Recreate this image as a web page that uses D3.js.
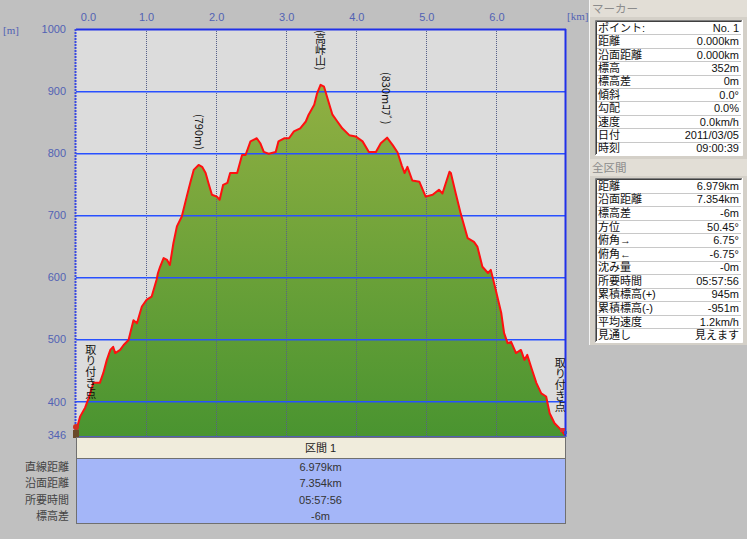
<!DOCTYPE html>
<html><head><meta charset="utf-8">
<script src="https://cdn.jsdelivr.net/npm/d3@7"></script>
<style>
html,body{margin:0;padding:0;background:#c0c0c0;}
svg{display:block;}
text{font-family:"Noto Sans CJK JP","Liberation Sans",sans-serif;}
text.tbl{font-family:"Liberation Sans","Noto Sans CJK JP",sans-serif;}
</style></head>
<body>
<script>
// ---- data ----
const distKm = [0.00,0.06,0.13,0.18,0.25,0.34,0.39,0.44,0.49,0.53,0.56,0.63,0.68,0.75,0.82,0.87,0.94,1.01,1.08,1.15,1.17,1.20,1.25,1.30,1.34,1.39,1.44,1.51,1.58,1.63,1.68,1.75,1.80,1.85,1.89,1.94,2.01,2.05,2.10,2.16,2.20,2.30,2.37,2.42,2.49,2.58,2.63,2.68,2.75,2.85,2.89,2.97,3.04,3.11,3.20,3.28,3.32,3.40,3.44,3.49,3.54,3.59,3.66,3.73,3.80,3.90,3.99,4.09,4.18,4.28,4.35,4.44,4.52,4.59,4.65,4.69,4.73,4.80,4.90,4.99,5.09,5.18,5.23,5.33,5.35,5.42,5.49,5.59,5.68,5.73,5.80,5.88,5.92,5.99,6.07,6.11,6.16,6.21,6.28,6.35,6.40,6.44,6.50,6.57,6.64,6.71,6.76,6.83,6.90,6.979];
const elevM  = [352,376,390,405,430,430,446,467,483,488,478,483,491,499,531,526,553,564,569,596,607,617,631,628,620,655,682,698,730,752,773,781,778,768,752,733,730,725,749,752,768,768,797,797,819,824,816,802,799,802,819,824,824,835,840,851,862,878,896,910,907,888,862,851,840,829,827,819,802,802,816,825,813,801,780,768,778,756,754,730,733,741,735,770,768,735,703,663,657,649,617,607,612,580,542,510,494,496,478,483,467,475,454,430,413,408,381,365,357,346];
const xTicks = [0,1,2,3,4,5,6];
const yTicks = [1000,900,800,700,600,500,400,346];
const yGrid = [900,800,700,600,500,400];
const annotations = [
  {km:1.77, top:114, text:"(790m)"},
  {km:3.49, top:30, text:"(高峠山)"},
  {km:4.44, top:72, text:"(830mｺﾌﾞ)"},
  {km:0.21, top:344, text:"取り付き点"},
  {km:6.91, top:357, text:"取り付き点"}
];
const markerLabels = ["ポイント:","距離","沿面距離","標高","標高差","傾斜","勾配","速度","日付","時刻"];
const markerValues = ["No. 1","0.000km","0.000km","352m","0m","0.0°","0.0%","0.0km/h","2011/03/05","09:00:39"];
const totalLabels = ["距離","沿面距離","標高差","方位","俯角→","俯角←","沈み量","所要時間","累積標高(+)","累積標高(-)","平均速度","見通し"];
const totalValues = ["6.979km","7.354km","-6m","50.45°","6.75°","-6.75°","-0m","05:57:56","945m","-951m","1.2km/h","見えます"];
const sectionTitle = "区間 1";
const sectionLabels = ["直線距離","沿面距離","所要時間","標高差"];
const sectionValues = ["6.979km","7.354km","05:57:56","-6m"];

// ---- drawing ----
const W = 747, H = 539;
const L = 76, R = 565, T = 29, B = 435;
const svg = d3.select("body").append("svg").attr("width", W).attr("height", H);
svg.append("rect").attr("width", W).attr("height", H).attr("fill", "#c0c0c0");

const x = d3.scaleLinear().domain([0, 6.979]).range([L, R]);
const y = d3.scaleLinear().domain([346, 1000]).range([B, T]);

const defs = svg.append("defs");
const grad = defs.append("linearGradient").attr("id","fillg")
  .attr("gradientUnits","userSpaceOnUse").attr("x1",0).attr("y1",T).attr("x2",0).attr("y2",B);
grad.append("stop").attr("offset","0%").attr("stop-color","#9cb445");
grad.append("stop").attr("offset","100%").attr("stop-color","#4a9430");

// plot background
svg.append("rect").attr("x", L).attr("y", T).attr("width", R-L).attr("height", B-T+1).attr("fill","#dcdcdc");

const pts = distKm.map((d,i)=>[d, elevM[i]]);
const area = d3.area().x(d=>x(d[0])).y0(B+1).y1(d=>y(d[1]));
const line = d3.line().x(d=>x(d[0])).y(d=>y(d[1]));
svg.append("path").datum(pts).attr("d", area).attr("fill","url(#fillg)");

// grid
svg.append("g").selectAll("line").data(xTicks.slice(1)).join("line")
  .attr("x1", d=>Math.round(x(d))+0.5).attr("x2", d=>Math.round(x(d))+0.5)
  .attr("y1", T).attr("y2", B+1)
  .attr("stroke","#56608a").attr("stroke-width",1).attr("stroke-dasharray","1,1");
svg.append("g").selectAll("line").data(yGrid).join("line")
  .attr("x1", L).attr("x2", R)
  .attr("y1", d=>Math.round(y(d))+0.75).attr("y2", d=>Math.round(y(d))+0.75)
  .attr("stroke","#2850ff").attr("stroke-width",1.5);

svg.append("path").datum(pts).attr("d", line).attr("fill","none")
  .attr("stroke","#ff1010").attr("stroke-width",2).attr("stroke-linejoin","round");

// borders
svg.append("line").attr("x1",L).attr("x2",R+1).attr("y1",T+0.5).attr("y2",T+0.5).attr("stroke","#2030e8").attr("stroke-width",2);
svg.append("line").attr("x1",R+0.5).attr("x2",R+0.5).attr("y1",T).attr("y2",B+2).attr("stroke","#2030e8").attr("stroke-width",2);
svg.append("line").attr("x1",L-0.5).attr("x2",L-0.5).attr("y1",T).attr("y2",B+2).attr("stroke","#3a4ae0").attr("stroke-width",2).attr("stroke-dasharray","2,1");
svg.append("line").attr("x1",L).attr("x2",R+1).attr("y1",B+1.5).attr("y2",B+1.5).attr("stroke","#5060b0").attr("stroke-width",1);

// vertical annotations
svg.append("g").selectAll("text").data(annotations).join("text")
  .attr("x", d=>x(d.km)).attr("y", d=>d.top)
  .style("writing-mode","vertical-rl").style("text-orientation","mixed")
  .style("font-size","11px").attr("fill","#111")
  .text(d=>d.text);

// start / end markers
const sm = svg.append("g");
sm.append("rect").attr("x",73).attr("y",430).attr("width",6).attr("height",8).attr("fill","#6a4a2a");
sm.append("circle").attr("cx",76).attr("cy",427).attr("r",3).attr("fill","#d03020");
const em = svg.append("g");
em.append("rect").attr("x",560).attr("y",428).attr("width",5).attr("height",4).attr("fill","#e03030");
em.append("rect").attr("x",564).attr("y",431).attr("width",3).attr("height",3).attr("fill","#3050d0");

// bottom section table
svg.append("rect").attr("x",L+0.5).attr("y",437.5).attr("width",R-L).attr("height",21).attr("fill","#f0ecdc").attr("stroke","#707070");
svg.append("text").attr("class","tbl").attr("x",(L+R)/2).attr("y",452).attr("text-anchor","middle")
  .style("font-size","11px").attr("fill","#222").text(sectionTitle);
svg.append("rect").attr("x",L+0.5).attr("y",458.5).attr("width",R-L).attr("height",65).attr("fill","#a4b6f8").attr("stroke","#707070");
const rowY = d3.scaleBand().domain(d3.range(sectionLabels.length)).range([459,524]);
svg.append("g").selectAll("text").data(sectionValues).join("text").attr("class","tbl")
  .attr("x",(L+R)/2).attr("y",(d,i)=>rowY(i)+rowY.bandwidth()/2+4).attr("text-anchor","middle")
  .style("font-size","11px").attr("fill","#333").text(d=>d);
svg.append("g").selectAll("text").data(sectionLabels).join("text").attr("class","tbl")
  .attr("x",69).attr("y",(d,i)=>rowY(i)+rowY.bandwidth()/2+4).attr("text-anchor","end")
  .style("font-size","11px").attr("fill","#444").text(d=>d);

// right panel
const PX = 589;
svg.append("rect").attr("x",PX).attr("y",0).attr("width",W-PX).attr("height",345).attr("fill","#d4d0c8");
svg.append("line").attr("x1",PX+0.5).attr("x2",PX+0.5).attr("y1",0).attr("y2",345).attr("stroke","#f4f4f4");

function panel(title, titleY, labels, values, top, bottom){
  svg.append("rect").attr("x",PX+1).attr("y",titleY).attr("width",W-PX-1).attr("height",17).attr("fill","#e2ded6");
  svg.append("text").attr("class","tbl").attr("x",592).attr("y",titleY+13).style("font-size","11.5px").attr("fill","#8c8c8c").text(title);
  const bx = 595, bw = 147;
  svg.append("rect").attr("x",bx+0.5).attr("y",top+0.5).attr("width",bw).attr("height",bottom-top).attr("fill","#ffffff");
  const band = d3.scaleBand().domain(d3.range(labels.length)).range([top+1, bottom]);
  svg.append("g").selectAll("line").data(d3.range(1,labels.length)).join("line")
    .attr("x1",bx+2).attr("x2",bx+bw-1).attr("y1",i=>Math.round(band(i))+0.5).attr("y2",i=>Math.round(band(i))+0.5)
    .attr("stroke","#c8c8c8");
  svg.append("path").attr("d",`M${bx+0.5},${bottom}V${top+0.5}H${bx+bw+0.5}`).attr("fill","none").attr("stroke","#808080");
  svg.append("path").attr("d",`M${bx+1.5},${bottom-1}V${top+1.5}H${bx+bw-0.5}`).attr("fill","none").attr("stroke","#404040");
  svg.append("path").attr("d",`M${bx+0.5},${bottom+0.5}H${bx+bw+0.5}V${top}`).attr("fill","none").attr("stroke","#ffffff");
  svg.append("g").selectAll("text").data(labels).join("text").attr("class","tbl")
    .attr("x",598).attr("y",(d,i)=>band(i)+band.bandwidth()/2+4)
    .style("font-size","11px").attr("fill","#111").text(d=>d);
  svg.append("g").selectAll("text").data(values).join("text").attr("class","tbl")
    .attr("x",739).attr("y",(d,i)=>band(i)+band.bandwidth()/2+4).attr("text-anchor","end")
    .style("font-size","11px").attr("fill","#111").text(d=>d);
}
panel("マーカー", 0, markerLabels, markerValues, 20, 155);
panel("全区間", 159, totalLabels, totalValues, 178, 342);

// axes
const axisColor = "#5262b4";
const gx = svg.append("g").attr("transform",`translate(0,${T-8})`)
  .call(d3.axisTop(x).tickValues(xTicks).tickFormat(d3.format(".1f")).tickSize(0).tickPadding(0));
gx.select(".domain").remove();
gx.selectAll("text").attr("fill",axisColor).style("font-family","'Liberation Sans',sans-serif").style("font-size","11px");
gx.selectAll(".tick").filter(d=>d===0).select("text").attr("x",12);

const gy = svg.append("g").attr("transform",`translate(${L},0)`)
  .call(d3.axisLeft(y).tickValues(yTicks).tickFormat(d3.format("d")).tickSize(0).tickPadding(10));
gy.select(".domain").remove();
gy.selectAll("text").attr("fill",axisColor).style("font-family","'Liberation Sans',sans-serif").style("font-size","11px");

svg.append("text").attr("x",3).attr("y",34).text("[m]").attr("fill",axisColor)
  .style("font-family","'Liberation Serif',serif").style("font-size","11px");
svg.append("text").attr("x",567).attr("y",20).text("[km]").attr("fill",axisColor)
  .style("font-family","'Liberation Serif',serif").style("font-size","11px");
</script>
</body></html>
